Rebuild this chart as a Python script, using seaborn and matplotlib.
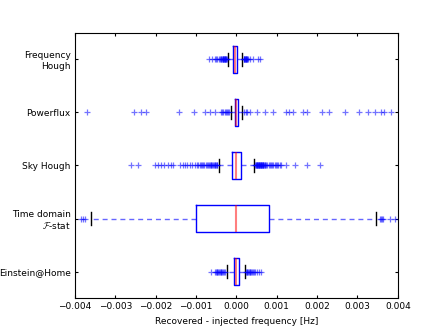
import numpy as np
import pandas as pd
import matplotlib
matplotlib.use("Agg")
import matplotlib.pyplot as plt
import seaborn as sns

# ==========================================
# Data (Hz)
# box = [lower whisker, Q1, median, Q3, upper whisker]
# ==========================================

pipelines = [
    "Frequency\nHough",
    "Powerflux",
    "Sky Hough",
    "Time domain\n$\\mathcal{F}$-stat",
    "Einstein@Home",
]

freq_hough_box = [-0.00021, -0.00008, -0.00003, 0.00002, 0.00013]
freq_hough_low = [-0.00068, -0.00060, -0.00053, -0.00050, -0.00047, -0.00043, -0.00041,
                  -0.00039, -0.00037, -0.00035, -0.00034, -0.00033, -0.00032, -0.00031,
                  -0.00030, -0.00029, -0.00028, -0.00027, -0.00026, -0.00025, -0.00024]
freq_hough_high = [0.00018, 0.00019, 0.00020, 0.00021, 0.00022, 0.00023, 0.00024, 0.00025,
                   0.00026, 0.00027, 0.00029, 0.00033, 0.00041, 0.00053, 0.00058]

powerflux_box = [-0.00014, -0.00004, 0.0, 0.00005, 0.00013]
powerflux_low = [-0.00371, -0.00253, -0.00235, -0.00224, -0.00143, -0.00105, -0.00078,
                 -0.00066, -0.00054, -0.00039, -0.00035, -0.00032, -0.00029, -0.00026,
                 -0.00023, -0.00020, -0.00018]
powerflux_high = [0.00019, 0.00023, 0.00027, 0.00033, 0.00050, 0.00070, 0.00091, 0.00124,
                  0.00130, 0.00140, 0.00165, 0.00174, 0.00211, 0.00229, 0.00268, 0.00305,
                  0.00326, 0.00343, 0.00359, 0.00365, 0.00384]

sky_hough_box = [-0.00042, -0.00011, 0.0, 0.00012, 0.00044]
sky_hough_low = [-0.00260, -0.00243, -0.00202, -0.00194, -0.00186, -0.00178, -0.00170,
                 -0.00163, -0.00157, -0.00139, -0.00133, -0.00127, -0.00121, -0.00115,
                 -0.00109, -0.00103, -0.00097, -0.00094, -0.00091, -0.00088, -0.00085,
                 -0.00082, -0.00079, -0.00076, -0.00073, -0.00070, -0.00068, -0.00066,
                 -0.00064, -0.00062, -0.00060, -0.00058, -0.00056, -0.00054, -0.00052,
                 -0.00050, -0.00048, -0.00047]
sky_hough_high = [0.00047, 0.00048, 0.00049, 0.00050, 0.00051, 0.00052, 0.00053, 0.00054,
                  0.00055, 0.00056, 0.00057, 0.00058, 0.00059, 0.00060, 0.00061, 0.00062,
                  0.00063, 0.00064, 0.00065, 0.00066, 0.00067, 0.00068, 0.00070, 0.00072,
                  0.00074, 0.00077, 0.00080, 0.00083, 0.00086, 0.00089, 0.00092, 0.00095,
                  0.00098, 0.00101, 0.00104, 0.00107, 0.00111, 0.00124, 0.00145, 0.00174,
                  0.00208]

tdfstat_box = [-0.00359, -0.000995, 0.0, 0.00081, 0.00345]
tdfstat_low = [-0.00384, -0.00380, -0.00375]
tdfstat_high = [0.00356, 0.00358, 0.00360, 0.00363, 0.00380, 0.00392]

einstein_box = [-0.00023, -0.00006, 0.0, 0.00006, 0.00022]
einstein_low = [-0.00062, -0.00053, -0.00051, -0.00049, -0.00047, -0.00045, -0.00043,
                -0.00041, -0.00039, -0.00037, -0.00035, -0.00033, -0.00031, -0.00029]
einstein_high = [0.00025, 0.00026, 0.00027, 0.00029, 0.00031, 0.00033, 0.00035, 0.00037,
                 0.00039, 0.00041, 0.00043, 0.00046, 0.00050, 0.00055, 0.00062]

xticks = [-0.004, -0.003, -0.002, -0.001, 0.0, 0.001, 0.002, 0.003, 0.004]


# ==========================================
# Build samples that reproduce each box
# ==========================================

def expand(box, low, high, k=300):
    whislo, q1, med, q3, whishi = box
    return low + [whislo] + [q1] * k + [med] * k + [q3] * k + [whishi] + high


samples = [
    expand(freq_hough_box, freq_hough_low, freq_hough_high),
    expand(powerflux_box, powerflux_low, powerflux_high),
    expand(sky_hough_box, sky_hough_low, sky_hough_high),
    expand(tdfstat_box, tdfstat_low, tdfstat_high),
    expand(einstein_box, einstein_low, einstein_high),
]

rows = []
for name, vals in zip(pipelines, samples):
    for v in vals:
        rows.append({"pipeline": name, "offset": v})
df = pd.DataFrame(rows)

# ==========================================
# Plot
# ==========================================

plt.rcParams["mathtext.fontset"] = "cm"
plt.rcParams["font.size"] = 6.5

fig = plt.figure(figsize=(4.43, 3.32), dpi=100)
ax = fig.add_axes([0.169, 0.102, 0.729, 0.7995])

sns.boxplot(
    data=df, x="offset", y="pipeline", order=pipelines, orient="y",
    fill=False, color="blue", width=0.5, whis=1.5, ax=ax,
    boxprops=dict(color="blue", linewidth=1.0),
    medianprops=dict(color="red", linewidth=1.5, alpha=0.5),
    whiskerprops=dict(color="blue", linewidth=1.0, linestyle=(0, (3.6, 2.8)), alpha=0.6),
    capprops=dict(color="black", linewidth=1.0),
    flierprops=dict(marker="+", markeredgecolor="blue", markerfacecolor="blue",
                    markersize=5, markeredgewidth=0.9, alpha=0.55, linestyle="none"),
)

ax.set_xlim(-0.004, 0.004)
ax.set_xticks(xticks)
ax.set_xlabel("Recovered - injected frequency [Hz]", fontsize=6.5)
ax.set_ylabel("")
ax.tick_params(direction="in", top=True, right=True, length=2.5, labelsize=6.5, pad=3)
for s in ax.spines.values():
    s.set_visible(True)
    s.set_color("black")
    s.set_linewidth(0.8)

plt.savefig("out.png", dpi=100)
